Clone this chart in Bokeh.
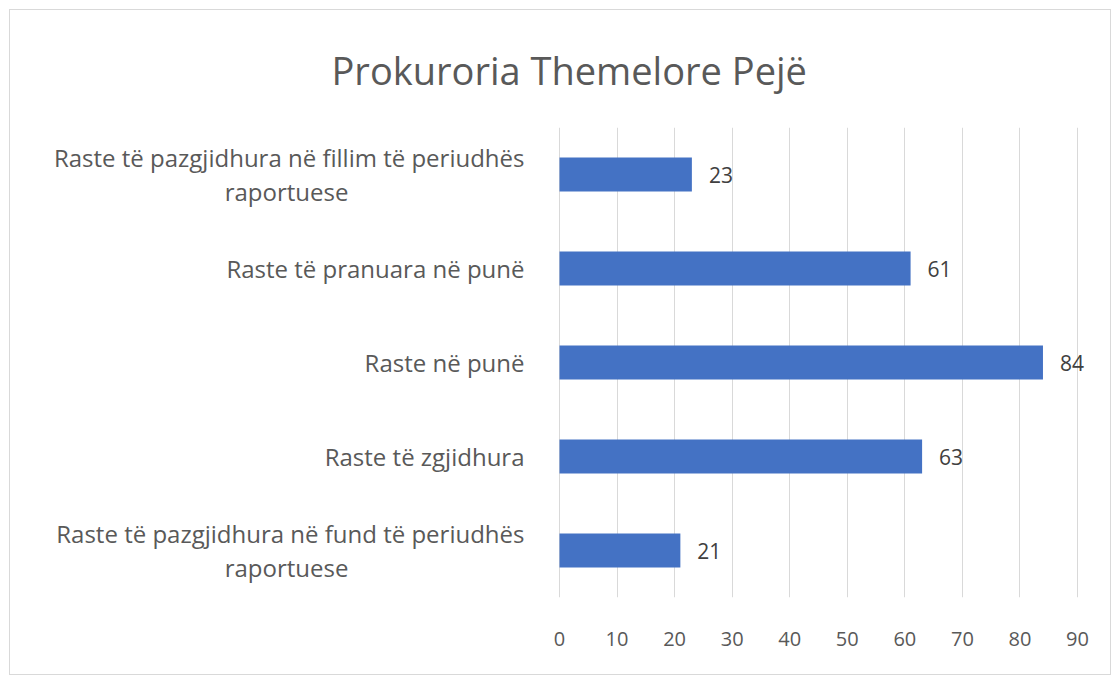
from bokeh.plotting import figure
from bokeh.models import ColumnDataSource, FactorRange, Range1d, FixedTicker
from bokeh.core.properties import value
from bokeh.embed import file_html
from bokeh.resources import INLINE

title_text = "Prokuroria Themelore Pejë"
categories = [
    "Raste të pazgjidhura në fillim të periudhës raportuese",
    "Raste të pranuara në punë",
    "Raste në punë",
    "Raste të zgjidhura",
    "Raste të pazgjidhura në fund të periudhës raportuese",
]
label_first = [
    "Raste të pazgjidhura në fillim të periudhës",
    "Raste të pranuara në punë",
    "Raste në punë",
    "Raste të zgjidhura",
    "Raste të pazgjidhura në fund të periudhës",
]
label_second = ["raportuese", "", "", "", "raportuese"]
values = [23, 61, 84, 63, 21]
x_ticks = [0, 10, 20, 30, 40, 50, 60, 70, 80, 90]

FONT = "Open Sans"
LABEL_GAP = -35        # right edge of category labels, px left of the zero line
HALF_LINE = 17         # half line spacing for two-line labels
BLOCK_HALF = 238       # half width of a wrapped label block

has2 = [bool(s) for s in label_second]
src = ColumnDataSource(dict(
    cat=categories, val=values, lbl=[str(v) for v in values],
    first=label_first, second=label_second,
    zero=[0] * len(values),
    y1=[-HALF_LINE if h else 0 for h in has2],
    y2=[HALF_LINE if h else 0 for h in has2],
))

# frame spans nearly the whole figure so that the category labels sit inside it;
# the zero line lands where the reference axis starts
W, H = 1102, 666
ML, MR = 10, 10
frame_w = W - ML - MR
zero_px, ninety_px = 539, 1057   # zero / 90 positions measured from the frame's left edge
scale = (ninety_px - zero_px) / 90.0
x_start = -zero_px / scale
x_end = x_start + frame_w / scale

p = figure(
    width=W, height=H,
    y_range=FactorRange(factors=list(reversed(categories))),
    x_range=Range1d(x_start, x_end),
    output_backend="svg", toolbar_location=None,
    min_border_left=ML, min_border_right=MR, min_border_top=115, min_border_bottom=79,
)
p.styles = {"border": "1px solid #d9d9d9", "margin": "9px 0 0 9px"}

p.title.text = title_text
p.title.text_font = FONT
p.title.text_font_size = "38px"
p.title.text_font_style = "normal"
p.title.text_color = "#595959"
p.title.align = "left"
p.title.offset = 311
p.title.standoff = 63

p.hbar(y="cat", right="val", left=0, height=0.36, source=src,
       fill_color="#4472C4", line_color=None)

p.text(x="val", y="cat", text="lbl", source=src, x_offset=17,
       text_align="left", text_baseline="middle",
       text_font=value(FONT), text_font_size="21px", text_color="#404040")

p.text(x="zero", y="cat", text="first", source=src,
       x_offset=LABEL_GAP, y_offset="y1",
       text_align="right", text_baseline="middle",
       text_font=value(FONT), text_font_size="24px", text_color="#595959")
p.text(x="zero", y="cat", text="second", source=src,
       x_offset=LABEL_GAP - BLOCK_HALF, y_offset="y2",
       text_align="center", text_baseline="middle",
       text_font=value(FONT), text_font_size="24px", text_color="#595959")

p.xaxis.ticker = FixedTicker(ticks=x_ticks)
p.xaxis.axis_line_color = None
p.xaxis.major_tick_line_color = None
p.xaxis.minor_tick_line_color = None
p.xaxis.major_label_text_font = FONT
p.xaxis.major_label_text_font_size = "20px"
p.xaxis.major_label_text_color = "#595959"
p.xaxis.major_label_standoff = 28

p.yaxis.visible = False

p.xgrid.grid_line_color = "#d9d9d9"
p.xgrid.ticker = FixedTicker(ticks=x_ticks)
p.ygrid.grid_line_color = None
p.outline_line_color = None

open("out.html", "w").write(file_html(p, INLINE))
